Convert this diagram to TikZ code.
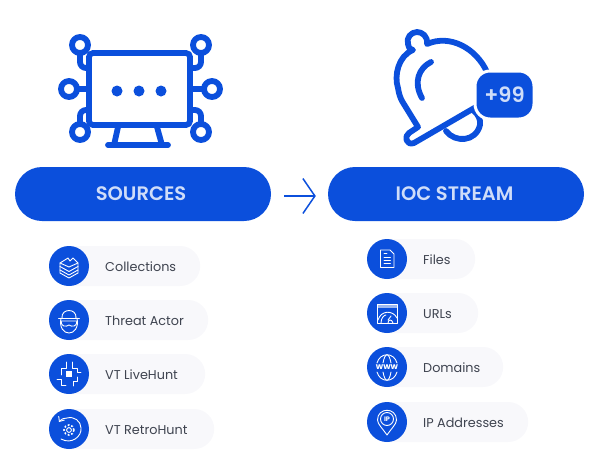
\documentclass[tikz,border=0pt]{standalone}
\usepackage{fontspec}
\setmainfont{Poppins}
\newfontfamily\headfont{Poppins SemiBold}
\usetikzlibrary{arrows.meta}
\definecolor{vtblue}{HTML}{0B4FDC}
\definecolor{vtpale}{HTML}{CFDDF9}
\definecolor{vtgrey}{HTML}{F8F8FB}
\definecolor{vttext}{HTML}{3F4450}
\begin{document}
\begin{tikzpicture}[x=1pt,y=-1pt,
    big/.style={draw=vtblue,line width=5.8pt,line cap=round,line join=round},
    hub/.style={circle,draw=vtblue,line width=5.8pt,minimum size=16pt,inner sep=0pt,outer sep=0pt},
    head/.style={rectangle,rounded corners=27pt,fill=vtblue,text=vtpale,minimum width=256pt,minimum height=54pt,font=\fontsize{19.5}{22}\headfont},
    pill/.style={rectangle,rounded corners=20pt,fill=vtgrey,minimum height=40pt,inner sep=0pt,anchor=west},
    disc/.style={circle,fill=vtblue,minimum size=40pt,inner sep=0pt},
    itemtext/.style={text=vttext,font=\fontsize{12.8}{14}\selectfont,anchor=base west,inner sep=0pt},
    fine/.style={draw=white,line width=0.9pt,line cap=round,line join=round}]
  \useasboundingbox (0,0) rectangle (600,474);

  % monitor
  \node[rectangle,draw=vtblue,line width=5.8pt,rounded corners=4pt,minimum width=101pt,minimum height=72pt,outer sep=0pt] (screen) at (139.5,89) {};
  \node[hub] (hubtl) at (80,45) {}; \node[hub] (hubtr) at (201,45) {};
  \node[hub] (hubl) at (69,89) {}; \node[hub] (hubr) at (212,89) {};
  \node[hub] (hubbl) at (80,132) {}; \node[hub] (hubbr) at (201,132) {};
  \draw[big] (hubl) -- (screen); \draw[big] (hubr) -- (screen);
  \draw[big,rounded corners=6pt] (hubtl) |- ([yshift=21]screen.west);
  \draw[big,rounded corners=6pt] (hubtr) |- ([yshift=21]screen.east);
  \draw[big,rounded corners=6pt] (hubbl) |- ([yshift=-21]screen.west);
  \draw[big,rounded corners=6pt] (hubbr) |- ([yshift=-21]screen.east);
  \foreach \dotx in {117,139,161} \fill[vtblue] (\dotx,91) circle (5.5pt);
  \draw[big,line cap=butt] (118,127) -- (114,145); \draw[big,line cap=butt] (157,127) -- (162,145);
  \draw[big] (108,145) -- (168,145);

  % bell
  \draw[big] (487,72) .. controls (476,48) and (450,34) .. (427,44)
    .. controls (428,36) and (422,32) .. (417,32) .. controls (411,32) and (406,38) .. (408,44)
    .. controls (409,48) and (410,50) .. (413,50) .. controls (398,56) and (394,76) .. (398,88)
    .. controls (399,94) and (400,97) .. (402,101) -- (418,127) -- (409,133)
    .. controls (404,136) and (406,146) .. (414,143) -- (476,107);
  \draw[big] (446,131) .. controls (455,143) and (476,142) .. (480,125) .. controls (481,120) and (478,114) .. (474,111);
  \draw[big] (431,62) .. controls (419,68) and (413,82) .. (422,98);
  \node[rectangle,rounded corners=15pt,fill=vtblue,draw=white,line width=3pt,minimum width=59pt,minimum height=48pt,text=vtpale,font=\fontsize{21}{24}\headfont] (badge) at (504.5,95) {+99};

  % headers
  \node[head] (sources) at (143,194) {SOURCES\kern4pt}; \node[head] (stream) at (456,194) {IOC STREAM\kern3pt};
  \draw[vtblue,line width=1.5pt,shorten <=13pt,shorten >=12pt,-{Straight Barb[length=12pt,width=35pt,line width=1.5pt]}] ([yshift=-2pt]sources.east) -- ([yshift=-2pt]stream.west);

  % lists
  \foreach \nm/\cx/\cy/\pw/\txt in {collections/69/266/151/Collections,actor/69/320/159/Threat Actor,livehunt/69/374/156/VT LiveHunt,retrohunt/69/429/165/VT RetroHunt,files/387/259/108/Files,urls/387/313/111/URLs,domains/387/367/136/Domains,ipaddr/387/422/161/IP Addresses} {
    \node[pill,minimum width=\pw pt] (\nm) at (\cx-20,\cy) {};
    \node[disc] (\nm-icon) at (\cx,\cy) {};
    \node[itemtext] (\nm-text) at (\cx+36,\cy+5) {\txt};
  }

  % collections icon
  \begin{scope}[shift={(collections-icon)}]
    \draw[fine] (-9,-3) -- (-1,-8) -- (1,-5) -- (4,-8) -- (9,-3) -- (0,1) -- cycle;
    \draw[fine] (-9,-3) -- (-9,7) -- (0,12) -- (9,7) -- (9,-3);
    \foreach \layer in {0.5,4} \draw[fine] (-9,\layer) -- (0,\layer+5) -- (9,\layer);
  \end{scope}
  % threat actor icon
  \begin{scope}[shift={(actor-icon)}]
    \draw[fine] (-10.5,-2) -- (10.5,-2);
    \draw[fine] (-7,-2) .. controls (-8,-12) and (8,-12) .. (7,-2);
    \draw[fine] (-8,-2) .. controls (-10,8) and (-5,13) .. (0,13) .. controls (5,13) and (10,8) .. (8,-2);
    \draw[fine] (-8,1) -- (8,1) .. controls (8,7) and (3,7) .. (0,5) .. controls (-3,7) and (-8,7) .. (-8,1) -- cycle;
  \end{scope}
  % livehunt icon
  \begin{scope}[shift={(livehunt-icon)}]
    \fill[white] (-3,-3) rectangle (3,3);
    \draw[fine] (-8,1) -- (-8,-6) -- (-3,-6) -- (-3,-12);
    \draw[fine] (3,-12) -- (3,-6) -- (8,-6) -- (8,-2) -- (12,-2);
    \draw[fine] (8,3) -- (8,7) -- (4,7) -- (4,12);
    \draw[fine] (-12,5) -- (-8,5) -- (-8,11) -- (-3,11);
  \end{scope}
  % retrohunt icon
  \begin{scope}[shift={(retrohunt-icon)}]
    \draw[fine,-{Straight Barb[length=4pt,width=7pt]}] (-8,10) .. controls (3,16) and (13,7) .. (12,-1) .. controls (12,-8) and (5,-13) .. (-2,-11) .. controls (-5,-11) and (-8,-10) .. (-10,-7);
    \draw[white,line width=1.6pt,dash pattern=on 1.8pt off 1.8pt] (0,1) circle (5pt);
    \draw[fine] (0,1) circle (2.4pt);
  \end{scope}
  % files icon
  \begin{scope}[shift={(files-icon)}]
    \draw[fine] (-6.5,-9) -- (3,-9) -- (7,-5) -- (7,8.5) -- (-6.5,8.5) -- cycle;
    \draw[fine] (-3,-6) -- (0,-6); \draw[fine] (-3,-1.5) -- (3.5,-1.5);
    \draw[fine] (-3,1.5) -- (3.5,1.5); \draw[fine] (-3,4.5) -- (3.5,4.5);
  \end{scope}
  % urls icon
  \begin{scope}[shift={(urls-icon)}]
    \draw[fine] (-9.5,-8.5) rectangle (10,10);
    \fill[white,opacity=0.6] (-9.5,-8.5) rectangle (10,-5);
    \draw[fine] (-9,7) .. controls (-6,-3) and (6,-3) .. (10,5);
    \draw[fine] (-6,10) .. controls (-6,5) and (-3,2) .. (-1,2);
    \draw[fine] (1,10) .. controls (1,6) and (5,6) .. (6,10);
    \draw[fine] (1,7) -- (4,3);
  \end{scope}
  % domains icon
  \begin{scope}[shift={(domains-icon)}]
    \draw[fine] (-10,-4) .. controls (-7,-15) and (7,-15) .. (10,-4);
    \draw[fine] (-10,5) .. controls (-7,16) and (7,16) .. (10,5);
    \draw[fine] (-4,-4) .. controls (-2,-15) and (2,-15) .. (4,-4);
    \draw[fine] (-4,5) .. controls (-2,16) and (2,16) .. (4,5);
    \node[text=white,font=\fontsize{8.5}{9}\selectfont\bfseries,inner sep=0pt] (wwwtext) at (0,0) {www};
  \end{scope}
  % ip icon
  \begin{scope}[shift={(ipaddr-icon)}]
    \draw[fine] (0,13) .. controls (-4,7) and (-9.5,2) .. (-9.5,-2) .. controls (-9.5,-15) and (9.5,-15) .. (9.5,-2) .. controls (9.5,2) and (4,7) .. (0,13) -- cycle;
    \draw[fine] (0,-3) circle (6.5pt);
    \node[text=white,font=\fontsize{6.5}{7}\selectfont\bfseries,inner sep=0pt] (iptext) at (0,-3) {IP};
  \end{scope}
\end{tikzpicture}
\end{document}
